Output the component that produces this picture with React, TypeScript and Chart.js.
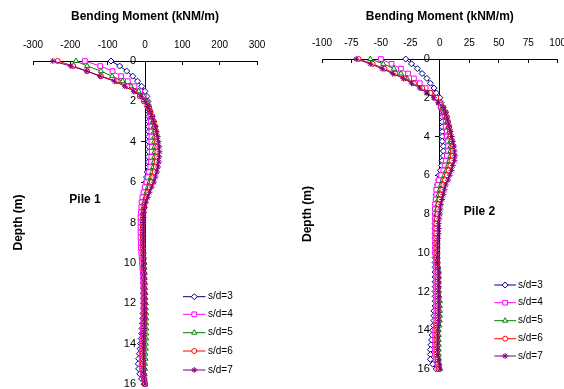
import React, { useEffect, useRef } from 'react';
import { Chart, registerables } from 'chart.js';
import { drawPoint } from 'chart.js/helpers';

Chart.register(...registerables);

// ---------- DATA ----------
const depths = [
  0, 0.25, 0.5, 0.75, 1, 1.25, 1.5, 1.75,
  2, 2.25, 2.5, 2.75, 3, 3.25, 3.5, 3.75,
  4, 4.25, 4.5, 4.75, 5, 5.25, 5.5, 5.75,
  6, 6.25, 6.5, 6.75, 7, 7.25, 7.5, 7.75,
  8, 8.25, 8.5, 8.75, 9, 9.25, 9.5, 9.75,
  10, 10.25, 10.5, 10.75, 11, 11.25, 11.5, 11.75,
  12, 12.25, 12.5, 12.75, 13, 13.25, 13.5, 13.75,
  14, 14.25, 14.5, 14.75, 15, 15.25, 15.5, 15.75,
  16,
];
const seriesLabels = ['s/d=3', 's/d=4', 's/d=5', 's/d=6', 's/d=7'];

// Pile 1 bending moment (kNm/m)
const pile1Sd3 = [
  -91, -68, -49, -33, -20, -9, 0, 5,
  8, 9, 9, 10, 10, 10, 10, 10,
  10, 10, 10, 9, 9, 8, 6, 4,
  2, 0, -2, -4, -5, -6, -7, -8,
  -8, -8, -8, -8, -8, -7, -7, -6,
  -6, -5, -5, -4, -4, -4, -4, -4,
  -4, -4, -5, -6, -7, -8, -9, -10,
  -12, -13, -15, -17, -18, -17, -14, -9,
  -2,
];
const pile1Sd4 = [
  -161, -120, -87, -64, -46, -28, -13, -3,
  5, 10, 13, 15, 16, 17, 17, 17,
  17, 18, 18, 17, 16, 14, 11, 8,
  4, 0, -4, -7, -9, -10, -11, -12,
  -12, -12, -12, -12, -11, -11, -10, -9,
  -8, -7, -6, -5, -5, -4, -4, -4,
  -4, -4, -4, -4, -5, -5, -6, -7,
  -8, -8, -9, -9, -9, -8, -6, -3,
  0,
];
const pile1Sd5 = [
  -185, -155, -118, -88, -60, -38, -17, -4,
  5, 11, 15, 18, 21, 23, 24, 25,
  25, 26, 26, 25, 24, 22, 19, 16,
  12, 8, 4, 1, -2, -4, -5, -6,
  -6, -6, -6, -6, -5, -5, -4, -3,
  -2, -2, -1, -1, 0, 0, 1, 1,
  2, 2, 3, 3, 3, 3, 3, 3,
  2, 2, 1, 1, 0, 0, -1, -1,
  0,
];
const pile1Sd6 = [
  -234, -192, -155, -118, -76, -47, -28, -14,
  -3, 6, 14, 20, 24, 27, 29, 31,
  32, 33, 33, 32, 31, 29, 26, 22,
  18, 13, 8, 4, 0, -2, -4, -5,
  -6, -6, -6, -6, -6, -6, -5, -5,
  -4, -4, -3, -3, -2, -2, -2, -2,
  -2, -2, -2, -2, -3, -3, -4, -4,
  -5, -5, -6, -6, -6, -5, -4, -2,
  0,
];
const pile1Sd7 = [
  -247, -199, -156, -121, -82, -54, -30, -11,
  0, 7, 14, 19, 24, 28, 31, 34,
  36, 38, 39, 38, 37, 35, 32, 28,
  24, 18, 12, 7, 2, -1, -3, -4,
  -5, -5, -5, -5, -5, -5, -4, -4,
  -3, -3, -2, -2, -2, -2, -1, -1,
  -1, -1, -1, -1, -2, -2, -3, -3,
  -4, -4, -4, -4, -4, -4, -3, -2,
  0,
];

// Pile 2 bending moment (kNm/m)
const pile2Sd3 = [
  -29, -24, -19, -15, -11, -8, -5, -3,
  0, 1, 1, 2, 2, 2, 2, 2,
  2, 2, 3, 3, 3, 2, 1.5, 0.5,
  -0.5, -1, -2, -2.5, -3, -3, -3.5, -4,
  -4, -4, -4, -4, -4, -4, -4, -4,
  -4, -4, -4, -4, -4, -4, -4, -4,
  -4, -4, -4, -4, -5, -5, -5, -5.5,
  -6, -6.5, -7, -7.5, -8, -8, -8, -6,
  -3,
];
const pile2Sd4 = [
  -50, -41, -33, -27, -22, -17, -12, -8,
  -4, -1, 1, 3, 4, 5, 5, 6,
  6, 7, 7, 7, 6, 5, 4, 3,
  1, -1, -2, -3, -3, -3.5, -4, -4,
  -4, -4, -4, -4, -4, -4, -4, -4,
  -4, -3.5, -3, -3, -3, -3, -3, -3,
  -3, -3, -3, -3, -3, -3, -3, -3.5,
  -4, -4, -4, -4, -4, -4, -3, -2,
  -1,
];
const pile2Sd5 = [
  -59, -48, -39, -33, -28, -22, -15, -9,
  -4, -1, 2, 3, 5, 6, 7, 8,
  8, 9, 9, 9, 9, 8, 7, 5.5,
  4, 2.5, 1, 0, -1, -1.5, -2, -2.5,
  -3, -3, -3, -3, -3, -2.5, -2, -2,
  -2, -2, -2, -1.5, -1, -1, -1, -1,
  -1, -0.5, 0, 0, 0, 0, 0, -0.5,
  -1, -1, -1, -1, -1, -1, -1, -0.5,
  0,
];
const pile2Sd6 = [
  -69, -57, -47, -38, -30, -22, -15, -8,
  -3, 0, 3, 5, 6, 7, 8, 8.5,
  9, 10, 11, 11, 11, 10, 9, 7.5,
  6, 4.5, 3, 2, 1, 0, -1, -1.5,
  -2, -2.5, -3, -3, -3, -3, -3, -3,
  -3, -2.5, -2, -2, -2, -2, -2, -2,
  -2, -2, -2, -2, -2, -2, -2, -2.5,
  -3, -3, -3, -3, -3, -3, -2, -1.5,
  -1,
];
const pile2Sd7 = [
  -71, -59, -49, -40, -31, -24, -17, -11,
  -5, -1, 3, 5, 6, 7, 8, 9,
  10, 11, 12, 12.5, 13, 12.5, 11, 10,
  8.5, 7, 5, 4, 3, 2, 1, 0.5,
  0, -0.5, -1, -1, -1, -1.5, -2, -2,
  -2, -2, -2, -1.5, -1, -1, -1, -1,
  -1, -1, -1, -1, -1, -1, -1, -1.5,
  -2, -2, -2, -2, -2, -2, -1, -0.5,
  0,
];

const pile1Series = [pile1Sd3, pile1Sd4, pile1Sd5, pile1Sd6, pile1Sd7];
const pile2Series = [pile2Sd3, pile2Sd4, pile2Sd5, pile2Sd6, pile2Sd7];

const pile1XRange = [-300, 300];
const pile1XStep = 100;
const pile2XRange = [-100, 100];
const pile2XStep = 25;
const depthRange = [0, 16];
const depthStep = 2;

const xTitle = 'Bending Moment (kNM/m)';
const yTitle = 'Depth (m)';

// ---------- STYLE ----------
const FONT = '"Liberation Sans", Arial, sans-serif';
const colors = ['#000080', '#FF00FF', '#008000', '#FF0000', '#800080'];
const pointStyles = ['rectRot', 'rect', 'triangle', 'circle', 'star'];
const pointRadii = [3, 3.3, 3, 2.5, 3];

type Panel = {
  left: number;
  width: number;
  pad: { left: number; right: number; bottom: number };
  topH: number;
  xRange: number[];
  xStep: number;
  series: number[][];
  pileLabel: string;
  pileXY: [number, number];
  depthXY: [number, number];
  yLabelGap: number;
  legend: { x0: number; x1: number; tx: number; rows: number[] };
};

const panels: Panel[] = [
  {
    left: 0,
    width: 290,
    pad: { left: 33, right: 33, bottom: 5 },
    topH: 61,
    xRange: pile1XRange,
    xStep: pile1XStep,
    series: pile1Series,
    pileLabel: 'Pile 1',
    pileXY: [85, 200],
    depthXY: [19, 222.5],
    yLabelGap: 9,
    legend: { x0: 183, x1: 205.5, tx: 208, rows: [296.7, 314.3, 332.7, 351, 370] },
  },
  {
    left: 290,
    width: 290,
    pad: { left: 32, right: 20, bottom: 20 },
    topH: 59,
    xRange: pile2XRange,
    xStep: pile2XStep,
    series: pile2Series,
    pileLabel: 'Pile 2',
    pileXY: [189.5, 212],
    depthXY: [18, 214],
    yLabelGap: 10,
    legend: { x0: 204.3, x1: 226, tx: 228, rows: [285, 302.7, 320.7, 338.7, 356] },
  },
];

function makeOverlay(p: Panel) {
  return {
    id: 'overlay',
    afterDraw(chart: any) {
      const ctx = chart.ctx as CanvasRenderingContext2D;
      ctx.save();
      // y tick labels (left of the axis that crosses at x = 0)
      const ys = chart.scales.y;
      const x0 = chart.scales.x.getPixelForValue(0);
      ctx.fillStyle = '#000';
      ctx.font = `11px ${FONT}`;
      ctx.textAlign = 'right';
      ctx.textBaseline = 'middle';
      ys.ticks.forEach((t: any) => {
        ctx.fillText(String(t.value), x0 - p.yLabelGap, ys.getPixelForValue(t.value));
      });
      // pile label + depth title
      ctx.font = `bold 12px ${FONT}`;
      ctx.textAlign = 'center';
      ctx.fillText(p.pileLabel, p.pileXY[0], p.pileXY[1]);
      ctx.save();
      ctx.translate(p.depthXY[0], p.depthXY[1]);
      ctx.rotate(-Math.PI / 2);
      ctx.fillText(yTitle, 0, 0);
      ctx.restore();
      // legend
      const lg = p.legend;
      seriesLabels.forEach((lab, i) => {
        const y = lg.rows[i];
        ctx.strokeStyle = colors[i];
        ctx.lineWidth = 1;
        ctx.beginPath();
        ctx.moveTo(lg.x0, y);
        ctx.lineTo(lg.x1, y);
        ctx.stroke();
        ctx.fillStyle = '#fff';
        ctx.strokeStyle = colors[i];
        drawPoint(ctx, { pointStyle: pointStyles[i] as any, radius: pointRadii[i], rotation: 0, borderWidth: 1 } as any, (lg.x0 + lg.x1) / 2, y);
        ctx.fillStyle = '#000';
        ctx.font = `10px ${FONT}`;
        ctx.textAlign = 'left';
        ctx.textBaseline = 'middle';
        ctx.fillText(lab, lg.tx, y);
      });
      ctx.restore();
    },
  };
}

function PanelChart({ p }: { p: Panel }) {
  const ref = useRef<HTMLCanvasElement>(null);
  useEffect(() => {
    if (!ref.current) return;
    const datasets = p.series.map((vals, i) => ({
      label: seriesLabels[i],
      data: depths.map((d, j) => ({ x: vals[j], y: d })),
      showLine: true,
      borderColor: colors[i],
      backgroundColor: '#fff',
      borderWidth: 1,
      pointRadius: pointRadii[i],
      pointStyle: pointStyles[i],
      pointBorderWidth: 1,
      pointBorderColor: colors[i],
      pointBackgroundColor: '#fff',
      order: 4 - i,
      tension: 0,
      clip: false,
    }));
    const chart = new Chart(ref.current, {
      type: 'scatter',
      data: { datasets } as any,
      options: {
        responsive: false,
        animation: false,
        devicePixelRatio: 1,
        layout: { padding: { left: p.pad.left, right: p.pad.right, top: 0, bottom: p.pad.bottom } },
        plugins: { legend: { display: false }, tooltip: { enabled: false } },
        scales: {
          x: {
            type: 'linear',
            position: 'top',
            min: p.xRange[0],
            max: p.xRange[1],
            ticks: { stepSize: p.xStep, color: '#000', font: { family: FONT, size: 10 }, padding: 14, maxRotation: 0, autoSkip: false },
            grid: { drawOnChartArea: false, drawTicks: true, tickLength: -4, color: '#000' },
            border: { color: '#000', width: 1 },
            title: { display: true, text: xTitle, color: '#000', font: { family: FONT, size: 12, weight: 'bold' }, padding: { top: 9.5, bottom: 0 } },
            afterFit: (s: any) => { s.height = p.topH; },
          },
          y: {
            type: 'linear',
            position: { x: 0 },
            reverse: true,
            min: depthRange[0],
            max: depthRange[1],
            ticks: { stepSize: depthStep, display: false },
            grid: { drawOnChartArea: false, drawTicks: true, tickLength: 4, color: '#000' },
            border: { color: '#000', width: 1 },
          },
        },
      } as any,
      plugins: [makeOverlay(p)],
    });
    return () => chart.destroy();
  }, [p]);
  return (
    <canvas
      ref={ref}
      width={p.width}
      height={389}
      style={{ position: 'absolute', left: p.left, top: 0, width: p.width, height: 389 }}
    />
  );
}

export default function App() {
  return (
    <div style={{ position: 'fixed', left: 0, top: 0, width: 564, height: 389, overflow: 'hidden', background: '#fff' }}>
      {panels.map((p, i) => (
        <PanelChart key={i} p={p} />
      ))}
    </div>
  );
}
